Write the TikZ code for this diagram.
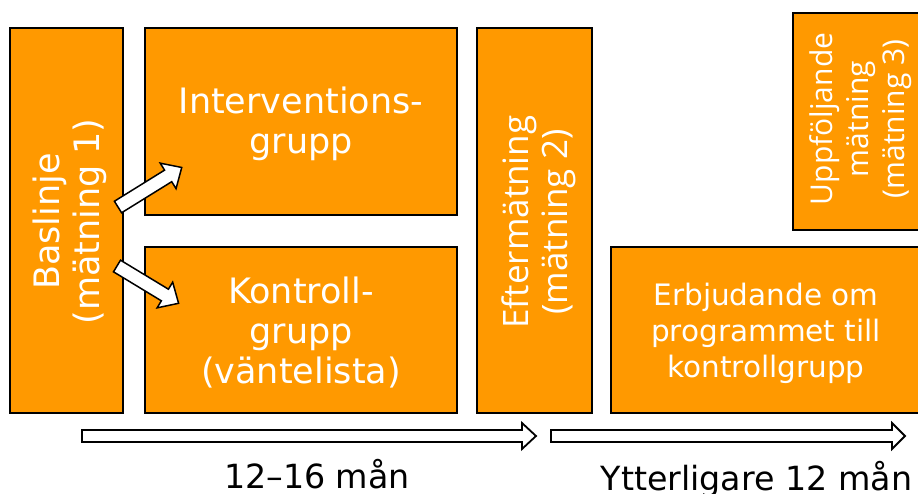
\documentclass[tikz,border=0pt]{standalone}
\usepackage{fontspec}
\newfontfamily\dv{DejaVu Sans}
\newfontfamily\os{Open Sans}
\definecolor{orng}{RGB}{255,153,0}
\begin{document}
\begin{tikzpicture}[x=1pt,y=-1pt,
  box/.style={draw=black, line width=1.4pt, fill=orng, inner sep=0pt},
  wtxt/.style={text=white, align=center, inner sep=0pt},
  big/.style={font=\dv\fontsize{35pt}{40pt}\selectfont},
  mid/.style={font=\dv\fontsize{29.5pt}{36pt}\selectfont},
  osbig/.style={font=\os\fontsize{35pt}{39pt}\selectfont},
  osmid/.style={font=\os\fontsize{30pt}{36pt}\selectfont},
  blk/.style={draw=black, line width=1.5pt, fill=white, line join=miter},
  lbl/.style={font=\dv\fontsize{33.3pt}{40pt}\selectfont, text=black, inner sep=0pt, anchor=base}
]
\useasboundingbox (0,0) rectangle (918,494);
\clip (0,0) rectangle (918,494);
\fill[white] (0,0) rectangle (918,494);

% boxes
\node[box, minimum width=113pt, minimum height=385pt] (base) at (66.5,220.5) {};
\node[box, minimum width=312pt, minimum height=187pt] (intv) at (301,121.5) {};
\node[box, minimum width=312pt, minimum height=166pt] (kont) at (301,330) {};
\node[box, minimum width=115pt, minimum height=385pt] (efter) at (534.5,220.5) {};
\node[box, minimum width=140pt, minimum height=217pt] (uppf) at (863,121.5) {};
\node[box, minimum width=312pt, minimum height=166pt] (erbj) at (767,330) {};

% texts
\node[wtxt, big, rotate=90] (tbase) at (70,221.5) {Baslinje\\(mätning 1)};
\node[wtxt, big] (tintv) at (301,124) {Interventions-\\grupp};
\node[wtxt, big] (tkont) at (301,333) {Kontroll-\\grupp\\(väntelista)};
\node[wtxt, osbig, rotate=90] (tefter) at (539,222) {Eftermätning\\(mätning 2)};
\node[wtxt, osmid, rotate=90] (tuppf) at (861,119) {Uppföljande\\mätning\\(mätning 3)};
\node[wtxt, mid] (terbj) at (766,333) {Erbjudande om\\programmet till\\kontrollgrupp};

% diagonal block arrows
\coordinate (a1) at (118,207);
\coordinate (a2) at (117,266);
\begin{scope}[shift={(a1)}, rotate=31.8]
  \draw[blk] (0,6.8) -- (59,6.8) -- (59,15) -- (75,0) -- (59,-15) -- (59,-6.8) -- (0,-6.8) -- cycle;
\end{scope}
\begin{scope}[shift={(a2)}, rotate=-31.2]
  \draw[blk] (0,6.8) -- (56,6.8) -- (56,15) -- (72,0) -- (56,-15) -- (56,-6.8) -- (0,-6.8) -- cycle;
\end{scope}

% timeline arrows
\coordinate (t1s) at (82,436);
\coordinate (t2s) at (551,436);
\draw[blk, line width=1.8pt] (t1s) ++(0,-6) -- (522,430) -- (522,423) -- (536,436) -- (522,449) -- (522,442) -- (82,442) -- cycle;
\draw[blk, line width=1.8pt] (t2s) ++(0,-6) -- (892,430) -- (892,423) -- (905,436) -- (892,449) -- (892,442) -- (551,442) -- cycle;

% labels
\node[lbl] (l1) at (317,488) {12–16 mån};
\node[lbl] (l2) at (756.5,490) {Ytterligare 12 mån};
\end{tikzpicture}
\end{document}
